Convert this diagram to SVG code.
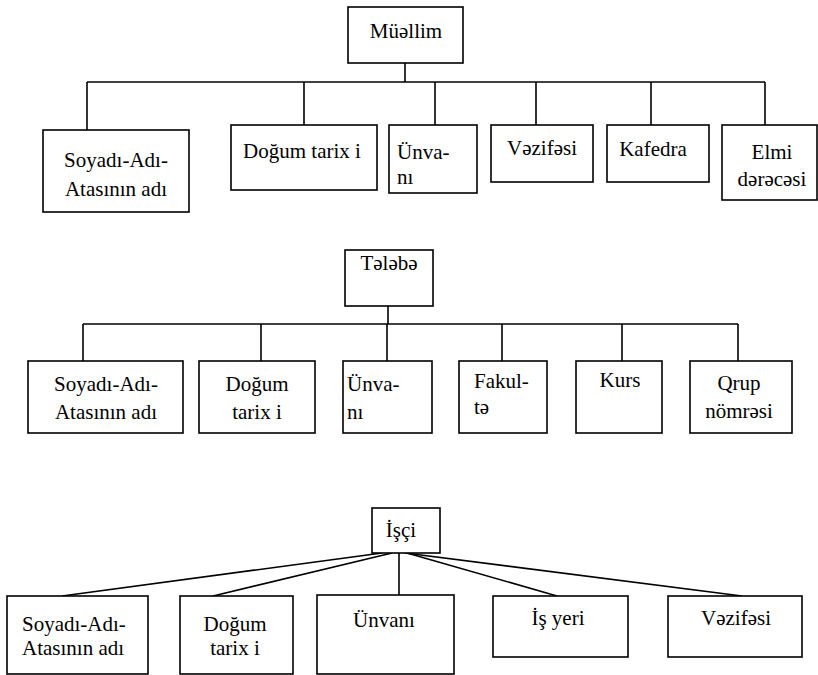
<svg xmlns="http://www.w3.org/2000/svg" width="818" height="675" viewBox="0 0 818 675">
<style>
rect{fill:#fff;stroke:#000;stroke-width:1.6}
#connectors line{stroke:#000;stroke-width:1.6;fill:none}
.c{text-anchor:middle}
</style>
<rect x="0" y="0" width="818" height="675" style="fill:#fff;stroke:none"/>
<g id="connectors">
<line x1="405" y1="63" x2="405" y2="82"/>
<line x1="87" y1="82" x2="765" y2="82"/>
<line x1="87" y1="82" x2="87" y2="130"/>
<line x1="304" y1="82" x2="304" y2="125"/>
<line x1="435" y1="82" x2="435" y2="125"/>
<line x1="536" y1="82" x2="536" y2="125"/>
<line x1="651" y1="82" x2="651" y2="125"/>
<line x1="765" y1="82" x2="765" y2="125"/>
<line x1="388" y1="306" x2="388" y2="324"/>
<line x1="83" y1="324" x2="738" y2="324"/>
<line x1="83" y1="324" x2="83" y2="361"/>
<line x1="261" y1="324" x2="261" y2="361"/>
<line x1="387" y1="324" x2="387" y2="361"/>
<line x1="502" y1="324" x2="502" y2="361"/>
<line x1="622" y1="324" x2="622" y2="361"/>
<line x1="738" y1="324" x2="738" y2="361"/>
<line x1="382" y1="553" x2="62" y2="596"/>
<line x1="392" y1="553" x2="213" y2="596"/>
<line x1="399" y1="553" x2="399" y2="595"/>
<line x1="407" y1="553" x2="557" y2="596"/>
<line x1="405" y1="553" x2="742" y2="596"/>
</g>
<g font-family="Liberation Serif, Times New Roman, serif" font-size="21" fill="#000">
<g id="muellim"><rect x="348" y="7" width="115" height="56"/><text class="c" x="406" y="38">Müəllim</text></g>
<g id="m-soyadi"><rect x="43" y="130" width="146" height="82"/><text class="c" x="116" y="167">Soyadı-Adı-</text><text class="c" x="116" y="196">Atasının adı</text></g>
<g id="m-dogum"><rect x="231" y="125" width="146" height="65"/><text class="c" x="302" y="158">Doğum tarix i</text></g>
<g id="m-unvani"><rect x="389" y="125" width="88" height="68"/><text x="397" y="159">Ünva-</text><text x="397" y="184">nı</text></g>
<g id="m-vezifesi"><rect x="491" y="125" width="102" height="57"/><text class="c" x="542" y="155">Vəzifəsi</text></g>
<g id="m-kafedra"><rect x="607" y="125" width="102" height="57"/><text class="c" x="653" y="156">Kafedra</text></g>
<g id="m-elmi"><rect x="722" y="125" width="95" height="75"/><text class="c" x="772" y="159">Elmi</text><text class="c" x="772" y="186">dərəcəsi</text></g>
<g id="telebe"><rect x="345" y="250" width="88" height="56"/><text class="c" x="389" y="270">Tələbə</text></g>
<g id="t-soyadi"><rect x="28" y="361" width="155" height="72"/><text class="c" x="106" y="391">Soyadı-Adı-</text><text class="c" x="106" y="419">Atasının adı</text></g>
<g id="t-dogum"><rect x="199" y="361" width="116" height="72"/><text class="c" x="257" y="391">Doğum</text><text class="c" x="257" y="419">tarix i</text></g>
<g id="t-unvani"><rect x="343" y="361" width="89" height="72"/><text x="347" y="391">Ünva-</text><text x="347" y="419">nı</text></g>
<g id="t-fakulte"><rect x="459" y="361" width="88" height="72"/><text x="474" y="388">Fakul-</text><text x="474" y="414">tə</text></g>
<g id="t-kurs"><rect x="576" y="361" width="86" height="72"/><text class="c" x="620" y="387">Kurs</text></g>
<g id="t-qrup"><rect x="690" y="361" width="102" height="72"/><text class="c" x="739" y="390">Qrup</text><text class="c" x="739" y="418">nömrəsi</text></g>
<g id="isci"><rect x="372" y="508" width="68" height="45"/><text class="c" x="401" y="537">İşçi</text></g>
<g id="i-soyadi"><rect x="7" y="596" width="141" height="78"/><text x="22" y="631">Soyadı-Adı-</text><text x="22" y="655">Atasının adı</text></g>
<g id="i-dogum"><rect x="180" y="596" width="113" height="78"/><text class="c" x="235" y="631">Doğum</text><text class="c" x="235" y="655">tarix i</text></g>
<g id="i-unvani"><rect x="317" y="595" width="137" height="79"/><text class="c" x="384" y="627">Ünvanı</text></g>
<g id="i-isyeri"><rect x="493" y="596" width="135" height="61"/><text class="c" x="558" y="625">İş yeri</text></g>
<g id="i-vezifesi"><rect x="668" y="596" width="134" height="61"/><text class="c" x="736" y="625">Vəzifəsi</text></g>
</g>
</svg>
